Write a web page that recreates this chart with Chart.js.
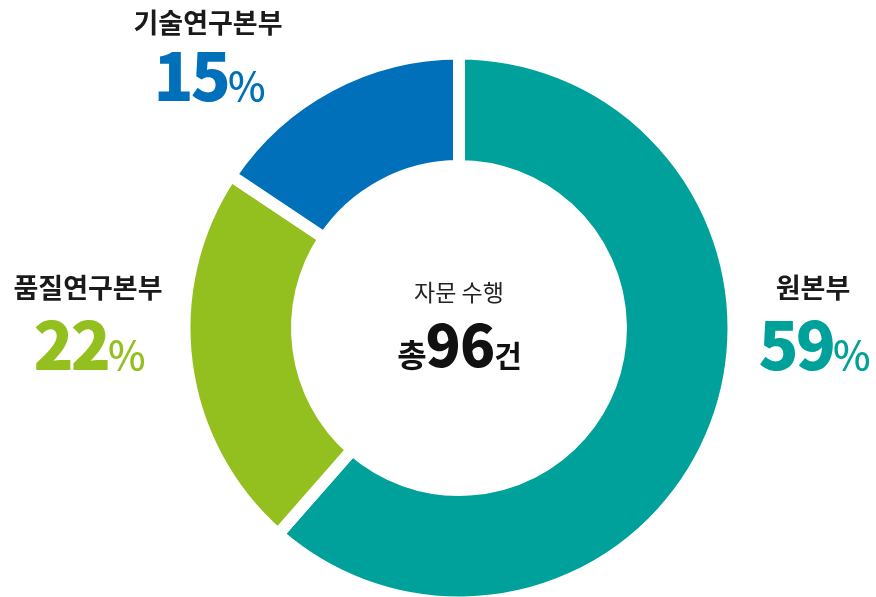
<!DOCTYPE html>
<html lang="ko">
<head>
<meta charset="utf-8">
<title>자문 수행 현황</title>
<script src="https://cdn.jsdelivr.net/npm/chart.js@4.4.1/dist/chart.umd.min.js"></script>
<style>
    html, body { margin: 0; padding: 0; background: #fff; }
    #wrap { width: 876px; height: 597px; position: relative; }
</style>
</head>
<body>
<div id="wrap"><canvas id="advice_plot"></canvas></div>
<script>
'use strict';

// Share of advisory cases per department (%)
const departments = ['원본부', '품질연구본부', '기술연구본부'];
const shares = [59, 22, 15];
const deptColors = ['#00a19a', '#93c01f', '#0070ba'];

// Centre caption
const centerTitle = '자문 수행';
const totalCases = 96;

const FONT = '"Noto Sans CJK KR", "Noto Sans", sans-serif';

// draws a run of [text, font, color] pieces centred on x, sharing one baseline
function drawRun(ctx, pieces, x, y, spacing) {
    ctx.save();
    ctx.textBaseline = 'alphabetic';
    ctx.textAlign = 'left';
    ctx.letterSpacing = spacing || '0px';
    let total = 0;
    const widths = pieces.map(p => {
        ctx.font = p[1];
        const w = ctx.measureText(p[0]).width;
        total += w;
        return w;
    });
    let cx = x - total / 2;
    pieces.forEach((p, i) => {
        ctx.font = p[1];
        ctx.fillStyle = p[2];
        ctx.fillText(p[0], cx, y);
        cx += widths[i];
    });
    ctx.restore();
}

// label offsets from the doughnut centre, one per department
const labelSpots = [
    { dx: 354, nameY: -40, valueY: 42 },
    { dx: -371, nameY: -40, valueY: 42 },
    { dx: -251, nameY: -305, valueY: -227 }
];

const labelPlugin = {
    id: 'deptLabels',
    afterDraw(chart) {
        const ctx = chart.ctx;
        const arc = chart.getDatasetMeta(0).data[0];
        const x0 = arc.x, y0 = arc.y;

        departments.forEach((name, i) => {
            const s = labelSpots[i];
            ctx.save();
            ctx.font = 'bold 27px ' + FONT;
            ctx.fillStyle = '#1a1a1a';
            ctx.textAlign = 'center';
            ctx.textBaseline = 'middle';
            ctx.fillText(name, x0 + s.dx, y0 + s.nameY);
            ctx.restore();

            drawRun(ctx, [
                [String(shares[i]), '900 66px ' + FONT, deptColors[i]],
                ['%', '500 40px ' + FONT, deptColors[i]]
            ], x0 + s.dx, y0 + s.valueY, '-3px');
        });

        // centre caption
        ctx.save();
        ctx.font = '23px ' + FONT;
        ctx.fillStyle = '#222';
        ctx.textAlign = 'center';
        ctx.textBaseline = 'middle';
        ctx.fillText(centerTitle, x0, y0 - 36);
        ctx.restore();

        drawRun(ctx, [
            ['총', 'bold 32px ' + FONT, '#111'],
            [String(totalCases), '900 58px ' + FONT, '#111'],
            ['건', 'bold 30px ' + FONT, '#111']
        ], x0, y0 + 39, '-1px');
    }
};

const config = {
    type: 'doughnut',
    data: {
        labels: departments,
        datasets: [{
            data: shares,
            backgroundColor: deptColors,
            borderColor: '#ffffff',
            borderWidth: 12,
            hoverOffset: 0
        }]
    },
    options: {
        responsive: true,
        maintainAspectRatio: false,
        animation: false,
        events: [],
        radius: 274.5,
        cutout: '59%',
        layout: {
            padding: { left: 42, right: 0, top: 59, bottom: 0 }
        },
        plugins: {
            legend: { display: false },
            tooltip: { enabled: false }
        }
    },
    plugins: [labelPlugin]
};

new Chart(document.getElementById('advice_plot'), config);
</script>
</body>
</html>
